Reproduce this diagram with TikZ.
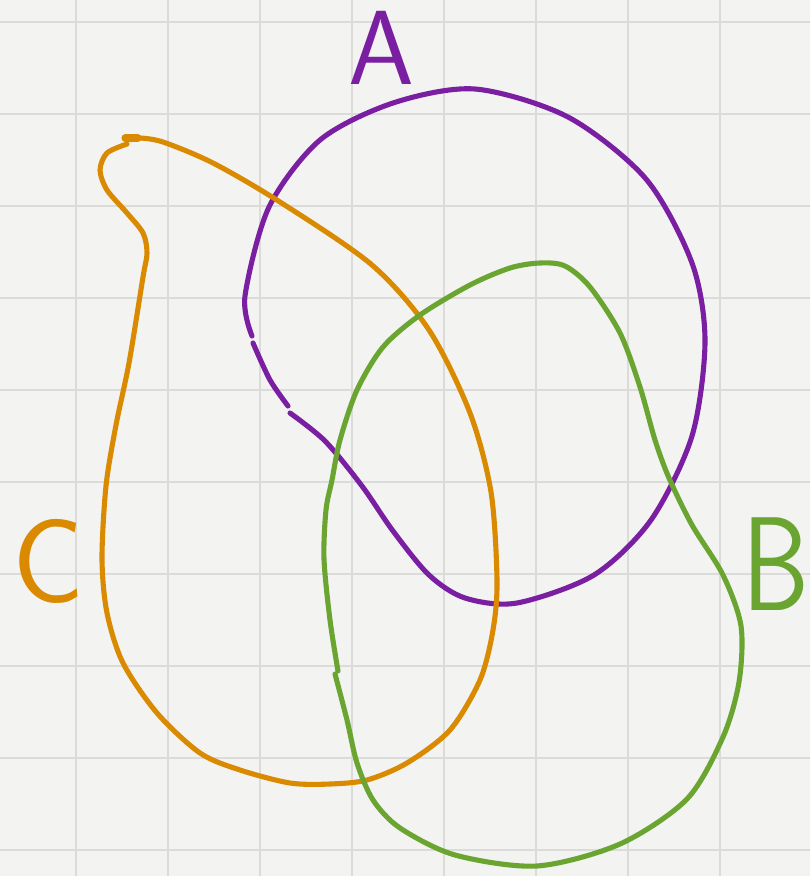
\documentclass[tikz,border=0pt]{standalone}
\definecolor{paper}{HTML}{F3F3F1}
\definecolor{gridline}{HTML}{DBDBD9}
\definecolor{setA}{HTML}{7A1FA2}
\definecolor{setB}{HTML}{6AA532}
\definecolor{setC}{HTML}{D98A00}
\begin{document}
\begin{tikzpicture}[x=0.01cm, y=-0.01cm,
    curve/.style={line width=1.45pt, line cap=round, line join=round},
    letter/.style={font=\sffamily\fontsize{30}{30}\selectfont, inner sep=0pt}]
  \fill[paper] (0,0) rectangle (810,876);
  \useasboundingbox (0,0) rectangle (810,876);
  % squared paper
  \foreach \x in {76,168,...,720}
    \draw[gridline, line width=0.6pt] (\x,0) -- (\x,876);
  \foreach \y in {22,114,...,850}
    \draw[gridline, line width=0.6pt] (0,\y) -- (810,\y);
  % set A
  \draw[curve, setA] plot[smooth] coordinates {(290,413) (325,441) (362,486) (393,531)
    (429,575) (465,598) (517,603) (594,575) (651,520) (692,436) (705,341) (692,263)
    (646,179) (568,117) (475,89) (393,103) (320,140) (269,207) (245,296) (252,336)};
  \draw[curve, setA] plot[smooth] coordinates {(253,343) (270,380) (288,406)};
  \node[letter, text=setA] (labelA) at (381,48) {A};
  % set C
  \draw[curve, setC] plot[smooth] coordinates {(140,138) (163,142) (213,163) (280,202)
    (372,265) (429,330) (470,413) (491,492) (497,580) (493,630) (480,680) (450,730)
    (407,763) (367,780) (330,784) (290,783) (240,770) (200,753) (157,713) (123,663)
    (107,613) (102,559) (106,486) (116,425) (129,363) (143,277) (147,253) (143,233)
    (127,213) (107,190) (100,170) (107,153) (127,144)};
  \draw[curve, setC, line width=2pt] (125,138) -- (138,138);
  \node[letter, text=setC, font=\sffamily\fontsize{34}{34}\selectfont] (labelC) at (48,561) {C};
  % set B
  \draw[curve, setB] plot[smooth] coordinates {(338,671) (330,620) (324,559) (326,510)
    (332,480) (340,440) (357,390) (383,347) (420,315) (470,285) (510,268) (540,263)
    (565,266) (590,287) (620,333) (640,387) (655,440) (669,478) (692,525) (723,575)
    (741,626) (739,682) (723,737) (687,799) (620,844) (537,866) (455,855) (400,828)
    (373,800) (357,763) (347,720) (335,674)};
  \node[letter, text=setB, font=\sffamily\fontsize{38}{38}\selectfont, xscale=0.8] (labelB) at (776,564) {B};
\end{tikzpicture}
\end{document}
